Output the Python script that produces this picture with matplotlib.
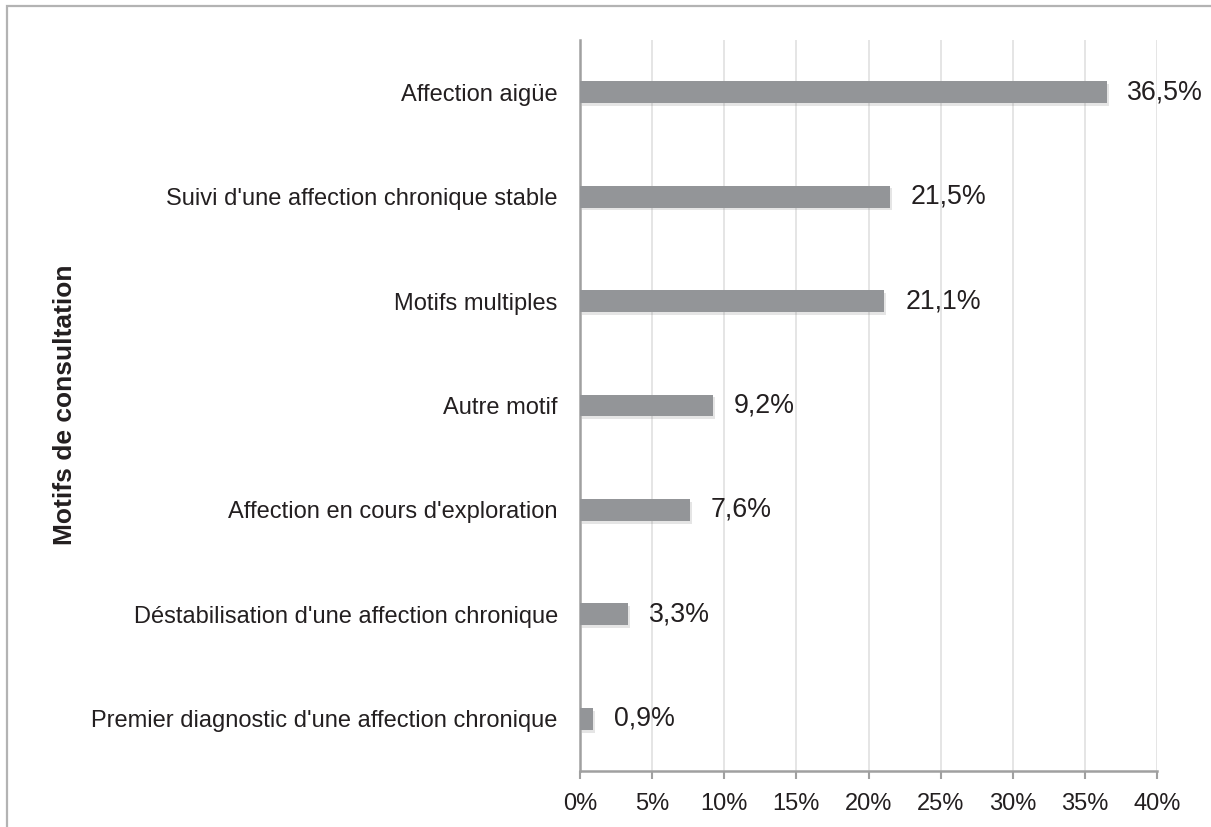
import matplotlib
matplotlib.use("Agg")
from matplotlib import pyplot as plt
from matplotlib import patheffects
from matplotlib.patches import Rectangle
from matplotlib.ticker import FuncFormatter

# data (top to bottom as shown in the chart)
categories = [
    "Affection aigüe",
    "Suivi d'une affection chronique stable",
    "Motifs multiples",
    "Autre motif",
    "Affection en cours d'exploration",
    "Déstabilisation d'une affection chronique",
    "Premier diagnostic d'une affection chronique",
]
values = [36.5, 21.5, 21.1, 9.2, 7.6, 3.3, 0.9]
value_labels = ["36,5%", "21,5%", "21,1%", "9,2%", "7,6%", "3,3%", "0,9%"]
x_ticks = [0, 5, 10, 15, 20, 25, 30, 35, 40]

plt.rcParams["font.family"] = ["Liberation Sans", "DejaVu Sans"]
text_color = "#231f20"
bar_color = "#939598"
axis_color = "#a0a0a0"

fig = plt.figure(figsize=(12.11, 8.27), dpi=100)
ax = fig.add_axes([0.479, 0.0677, 0.4764, 0.8839])

# outer frame (only top and left visible in the crop)
fig.patches.append(Rectangle((7 / 1211, -0.2), 1.2, 1.2 - 6 / 827,
                             transform=fig.transFigure, fill=False,
                             edgecolor="#b3b3b3", linewidth=1.6))

ypos = list(range(len(categories)))[::-1]
bars = ax.barh(ypos, values, height=0.21, color=bar_color, zorder=3)
for b in bars:
    b.set_path_effects([patheffects.SimplePatchShadow(offset=(1.5, -2), shadow_rgbFace="#808080", alpha=0.2),
                        patheffects.Normal()])

for y, v, lab in zip(ypos, values, value_labels):
    ax.annotate(lab, (v, y), xytext=(15, 0), textcoords="offset points",
                va="center", ha="left", fontsize=19.3, color=text_color)

ax.set_xlim(0, 40)
ax.set_ylim(-0.5, len(categories) - 0.5)
ax.set_xticks(x_ticks)
ax.xaxis.set_major_formatter(FuncFormatter(lambda x, _: f"{x:.0f}%"))
ax.set_yticks(ypos)
ax.set_yticklabels(categories)

ax.tick_params(axis="x", direction="out", length=6, width=1.5, color=axis_color,
               labelsize=17, labelcolor=text_color, pad=10)
ax.tick_params(axis="y", length=0, labelsize=17, labelcolor=text_color, pad=16)

ax.grid(axis="x", color="#e3e3e3", linewidth=1.3, zorder=0)
ax.set_axisbelow(True)
for side in ["top", "right"]:
    ax.spines[side].set_visible(False)
for side in ["left", "bottom"]:
    ax.spines[side].set_color(axis_color)
    ax.spines[side].set_linewidth(1.8)

fig.text(65 / 1211, 1 - 405 / 827, "Motifs de consultation", rotation=90,
         ha="center", va="center", fontsize=19, fontweight="bold", color=text_color)

fig.savefig("out.png", dpi=100)
